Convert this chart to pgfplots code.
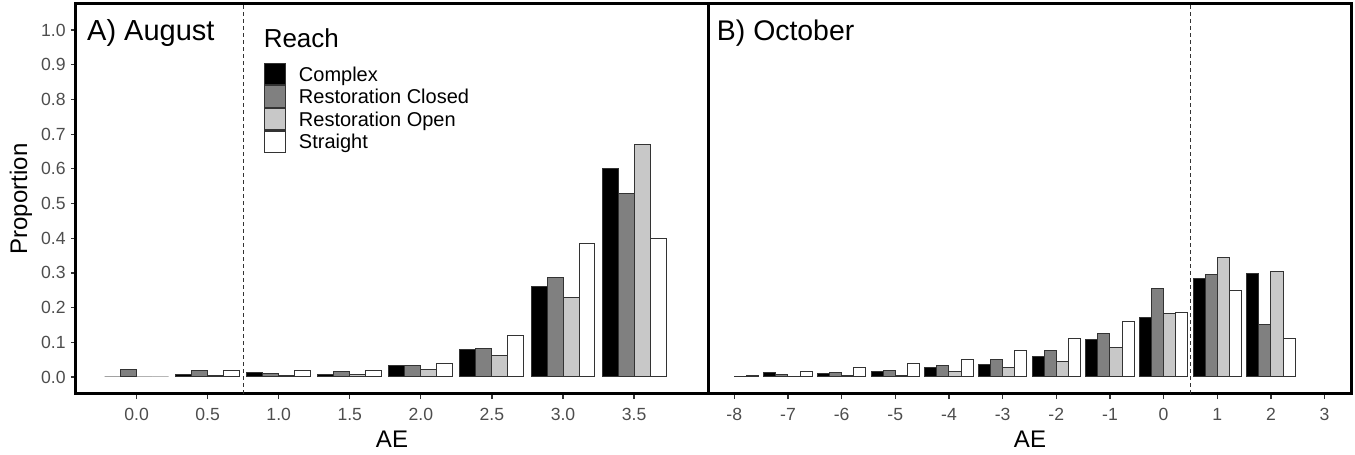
\documentclass[border=0pt]{standalone}
\usepackage{pgfplots}
\usepackage{pgfplotstable}
\pgfplotsset{compat=1.18}
\usepackage{fontspec}
\setmainfont{Liberation Sans}
\definecolor{rcgray}{RGB}{128,128,128}
\definecolor{rogray}{RGB}{200,200,200}
\definecolor{tickgray}{RGB}{77,77,77}
\definecolor{edge}{RGB}{51,51,51}

\pgfplotstableread{
x C RC RO S
0.0 0 0.022 0 0
0.5 0.006 0.018 0.004 0.020
1.0 0.012 0.010 0.003 0.020
1.5 0.008 0.017 0.006 0.020
2.0 0.034 0.034 0.022 0.039
2.5 0.079 0.081 0.062 0.120
3.0 0.260 0.288 0.229 0.386
3.5 0.600 0.528 0.670 0.400
}\aug

\pgfplotstableread{
x C RC RO S
-8 nan nan 0.001 0.003
-7 0.012 0.008 0.002 0.017
-6 0.011 0.014 0.005 0.027
-5 0.016 0.019 0.005 0.039
-4 0.028 0.034 0.016 0.049
-3 0.037 0.049 0.026 0.075
-2 0.059 0.075 0.046 0.110
-1 0.109 0.124 0.085 0.159
0 0.172 0.255 0.182 0.187
1 0.285 0.294 0.344 0.249
2 0.297 0.152 0.304 0.110
}\oct

\pgfplotsset{
  panel/.style={
    scale only axis, height=195pt, ymin=-0.049, ymax=1.075,
    axis line style={line width=1.5pt, black},
    tick align=outside, major tick length=2.5pt,
    tick style={edge, line width=0.6pt},
    xtick pos=bottom, ytick pos=left,
    ticklabel style={font=\fontsize{8.8}{10}\selectfont, text=tickgray},
    /pgf/number format/assume math mode=true,
    xticklabel style={anchor=base, yshift=-10.7pt},
    yticklabel style={anchor=east, inner sep=0pt, xshift=-2.5pt},
    xlabel style={font=\fontsize{12}{14}\selectfont, at={(axis description cs:0.5,-0.136)}, anchor=base},
    ylabel style={font=\fontsize{12}{14}\selectfont, at={(axis description cs:-0.0775,0.5)}, anchor=base},
    xlabel={AE},
  },
  barC/.style={ybar, bar width=#1, fill=black, draw=edge, line width=0.5pt},
  barRC/.style={ybar, bar width=#1, fill=rcgray, draw=edge, line width=0.5pt},
  barRO/.style={ybar, bar width=#1, fill=rogray, draw=edge, line width=0.5pt},
  barS/.style={ybar, bar width=#1, fill=white, draw=edge, line width=0.5pt},
}

\begin{document}
\begin{tikzpicture}
\useasboundingbox (0,0) rectangle (677.5pt,227.5pt);

\begin{axis}[panel,
  at={(38pt,30.5pt)}, anchor=south west, width=316pt,
  xmin=-0.426, xmax=4.02,
  xtick={0,0.5,1,1.5,2,2.5,3,3.5},
  xticklabels={0.0,0.5,1.0,1.5,2.0,2.5,3.0,3.5},
  ytick={0,0.1,0.2,0.3,0.4,0.5,0.6,0.7,0.8,0.9,1.0},
  yticklabels={0.0,0.1,0.2,0.3,0.4,0.5,0.6,0.7,0.8,0.9,1.0},
  ylabel={Proportion},
  legend style={at={(axis cs:0.892,0.907)}, anchor=north west, draw=none, fill=none,
    font=\fontsize{10}{12}\selectfont, row sep=0pt, column sep=6.3pt, inner sep=0pt,
    nodes={inner sep=0pt, text height=7.2pt, text depth=2pt}},
  legend cell align=left,
  legend image code/.code={\draw[#1, line width=0.6pt] (0pt,-4.37pt) rectangle (10.7pt,6.33pt);},
]
\addplot[barC=0.1125, bar shift=-0.16875] table[x=x,y=C] {\aug};
\addlegendentry{Complex}
\addplot[barRC=0.1125, bar shift=-0.05625] table[x=x,y=RC] {\aug};
\addlegendentry{Restoration Closed}
\addplot[barRO=0.1125, bar shift=0.05625] table[x=x,y=RO] {\aug};
\addlegendentry{Restoration Open}
\addplot[barS=0.1125, bar shift=0.16875] table[x=x,y=S] {\aug};
\addlegendentry{Straight}
\draw[edge, line width=0.5pt, dash pattern=on 2pt off 1.5pt] (axis cs:0.75,-0.049) -- (axis cs:0.75,1.075);
\node[anchor=base west, font=\fontsize{14.5}{16}\selectfont, inner sep=0pt] at (axis cs:-0.35,0.969) {A) August};
\node[anchor=base west, font=\fontsize{13}{15}\selectfont, inner sep=0pt] at (axis cs:0.892,0.949) {Reach};
\end{axis}

\begin{axis}[panel,
  at={(354pt,30.5pt)}, anchor=south west, width=322pt,
  xmin=-8.49, xmax=3.51,
  xtick={-8,-7,-6,-5,-4,-3,-2,-1,0,1,2,3},
  xticklabels={-8,-7,-6,-5,-4,-3,-2,-1,0,1,2,3},
  ytick=\empty,
]
\addplot[barC=0.225, bar shift=-0.3375] table[x=x,y=C] {\oct};
\addplot[barRC=0.225, bar shift=-0.1125] table[x=x,y=RC] {\oct};
\addplot[barRO=0.225, bar shift=0.1125] table[x=x,y=RO] {\oct};
\addplot[barS=0.225, bar shift=0.3375] table[x=x,y=S] {\oct};
\draw[edge, line width=0.5pt, dash pattern=on 2pt off 1.5pt] (axis cs:0.5,-0.049) -- (axis cs:0.5,1.075);
\node[anchor=base west, font=\fontsize{14.2}{16}\selectfont, inner sep=0pt] at (axis cs:-8.33,0.969) {B) October};
\end{axis}
\end{tikzpicture}
\end{document}
